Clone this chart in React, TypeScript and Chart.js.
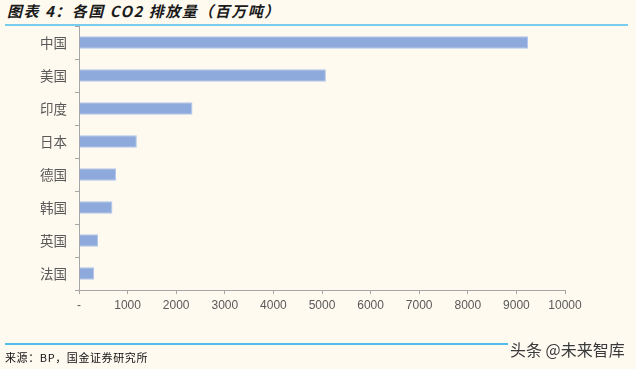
import React, { useEffect, useRef } from "react";
import { Chart, registerables } from "chart.js";

Chart.register(...registerables);

const categories = ["中国", "美国", "印度", "日本", "德国", "韩国", "英国", "法国"];
const emissions = [9240, 5080, 2335, 1190, 762, 688, 391, 309];
const xTicks = [0, 1000, 2000, 3000, 4000, 5000, 6000, 7000, 8000, 9000, 10000];
const titleText = "图表 4：各国 CO2 排放量（百万吨）";
const sourceText = "来源：BP，国金证券研究所";
const watermarkText = "头条 @未来智库";

const BG = "#fffaf0";

export default function App() {
  const ref = useRef<HTMLCanvasElement | null>(null);

  useEffect(() => {
    if (!ref.current) return;
    const chart = new Chart(ref.current, {
      type: "bar",
      data: {
        labels: categories,
        datasets: [
          {
            data: emissions,
            backgroundColor: "#8eaadd",
            borderColor: "#b4c6ea",
            borderWidth: 1,
            barPercentage: 0.72,
            categoryPercentage: 0.52,
          },
        ],
      },
      options: {
        indexAxis: "y",
        responsive: false,
        animation: false,
        maintainAspectRatio: false,
        layout: { padding: { left: 0, top: 26, right: 71, bottom: 49 } },
        plugins: {
          legend: { display: false },
          tooltip: { enabled: false },
          title: { display: false },
        },
        scales: {
          x: {
            min: 0,
            max: 10000,
            afterFit: (s: any) => {
              s.height = 30;
            },
            afterBuildTicks: (s: any) => {
              s.ticks = xTicks.map((v) => ({ value: v }));
            },
            ticks: {
              stepSize: 1000,
              color: "#595959",
              font: { family: "'Liberation Sans', sans-serif", size: 12 },
              padding: 4,
              callback: (v: any) => (Number(v) === 0 ? "-" : String(v)),
              maxRotation: 0,
            },
            grid: {
              drawOnChartArea: false,
              drawTicks: true,
              tickLength: 4,
              color: "#a6a6a6",
            },
            border: { display: true, color: "#a6a6a6", width: 1 },
          },
          y: {
            afterFit: (s: any) => {
              s.width = 79;
            },
            ticks: {
              color: "#595959",
              font: { family: "'Noto Sans CJK SC', sans-serif", size: 13.5 },
              padding: 8,
            },
            grid: {
              offset: true,
              drawOnChartArea: false,
              drawTicks: true,
              tickLength: 4,
              color: "#a6a6a6",
            },
            border: { display: true, color: "#a6a6a6", width: 1 },
          },
        },
      },
    });
    return () => chart.destroy();
  }, []);

  return (
    <div
      style={{
        position: "absolute",
        left: 0,
        top: 0,
        width: 636,
        height: 369,
        background: BG,
        overflow: "hidden",
      }}
    >
      <div
        style={{
          position: "absolute",
          left: 7,
          top: 1,
          fontFamily: "'Noto Sans CJK SC', sans-serif",
          fontWeight: 700,
          fontStyle: "italic",
          fontSize: 15,
          color: "#1a1a1a",
          whiteSpace: "nowrap",
          lineHeight: "20px",
          letterSpacing: 1.5,
        }}
      >
        {titleText}
      </div>
      <div
        style={{
          position: "absolute",
          left: 5,
          top: 24,
          width: 623,
          height: 2,
          background: "#78cdee",
        }}
      />
      <canvas
        ref={ref}
        width={636}
        height={369}
        style={{ position: "absolute", left: 0, top: 0, width: 636, height: 369 }}
      />
      <div
        style={{
          position: "absolute",
          left: 5,
          top: 343,
          width: 620,
          height: 2,
          background: "#4fbdea",
        }}
      />
      <div
        style={{
          position: "absolute",
          left: 5,
          top: 349,
          fontFamily: "'Noto Sans CJK SC', sans-serif",
          fontSize: 11,
          color: "#111",
          whiteSpace: "nowrap",
          lineHeight: "16px",
          letterSpacing: 0.6,
        }}
      >
        {sourceText}
      </div>
      <div
        style={{
          position: "absolute",
          left: 508,
          top: 339,
          fontFamily: "'Noto Sans CJK SC', sans-serif",
          fontSize: 16,
          color: "#3a3a3a",
          whiteSpace: "nowrap",
          lineHeight: "20px",
          background: BG,
          paddingLeft: 2,
          paddingRight: 10,
          textShadow: "0 0 1px #fff",
        }}
      >
        {watermarkText}
      </div>
    </div>
  );
}
